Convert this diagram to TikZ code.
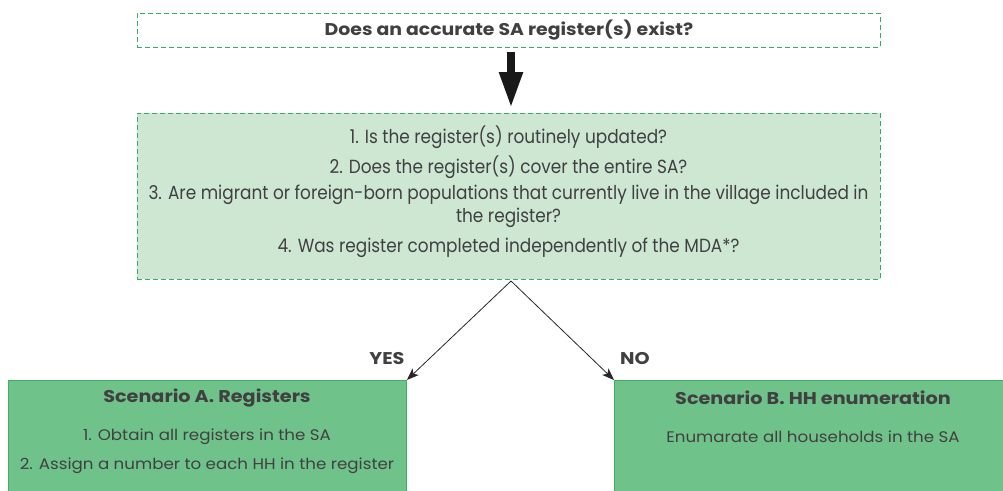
\documentclass[tikz,border=0pt]{standalone}
\usepackage{fontspec}
\setmainfont{Poppins}
\newfontfamily\condfont[FakeStretch=0.89]{Poppins}
\newfontfamily\wideA[FakeStretch=1.11]{Poppins}
\newfontfamily\wideB[FakeStretch=1.09]{Poppins}
\newfontfamily\wideC[FakeStretch=1.13]{Poppins}
\usetikzlibrary{arrows.meta,positioning}
\definecolor{txt}{HTML}{404040}
\definecolor{dashgreen}{HTML}{2EB062}
\definecolor{palegreen}{HTML}{CEE7D3}
\definecolor{boxgreen}{HTML}{70C28B}
\definecolor{boxedge}{HTML}{3DB064}
\tikzset{
  qbox/.style={draw=dashgreen, dash pattern=on 5pt off 3pt, line width=0.9pt, inner sep=0pt, text=txt},
  scen/.style={draw=boxedge, fill=boxgreen, line width=0.9pt, inner sep=0pt, text=txt, anchor=north west},
  thin/.style={draw=black!85, line width=0.8pt, -{Stealth[length=12pt,width=9pt,inset=3pt]}},
  lab/.style={text=txt, font=\wideC\fontsize{17}{20}\selectfont\bfseries}
}
\begin{document}
\begin{tikzpicture}[x=1pt,y=-1pt]
\useasboundingbox (0,0) rectangle (1003,490);
\node[qbox, minimum width=743pt, minimum height=34pt, anchor=north west] (top) at (137,13)
  {\wideA\fontsize{17}{20}\selectfont\bfseries Does an accurate SA register(s) exist?};
\node[qbox, fill=palegreen, minimum width=743pt, minimum height=166pt, anchor=north west] (mid) at (137,113) {};
\begin{scope}[every node/.style={text=txt, font=\condfont\fontsize{19}{22}\selectfont}]
\node (q1) at (508.5,137) {1. Is the register(s) routinely updated?};
\node (q2) at (508.5,167) {2. Does the register(s) cover the entire SA?};
\node (q3) at (508.5,195) {3. Are migrant or foreign-born populations that currently live in the village included in};
\node (q3b) at (508.5,218) {the register?};
\node (q4) at (508.5,248) {4. Was register completed independently of the MDA*?};
\end{scope}
\draw[black!90, line width=8pt, -{Triangle[width=22pt,length=36pt]}, shorten <=4pt, shorten >=5pt] (top.south -| 511,0) -- (mid.north -| 511,0);
\node[scen, minimum width=398pt, minimum height=115pt] (A) at (8,380) {};
\node[scen, minimum width=395pt, minimum height=115pt] (B) at (614,380) {};
\coordinate (split) at (511,281);
\draw[thin] (split) -- (A.north east);
\draw[thin] (split) -- (B.north west);
\node[lab] (yes) at (387,359) {YES};
\node[lab] (no) at (635,359) {NO};
\begin{scope}[every node/.style={text=txt, font=\wideB\fontsize{15.3}{18}\selectfont}]
\node[font=\wideC\fontsize{17}{20}\selectfont\bfseries] (at) at (207,398) {Scenario A. Registers};
\node (a1) at (207,437) {1. Obtain all registers in the SA};
\node (a2) at (207,466) {2. Assign a number to each HH in the register};
\node[font=\wideC\fontsize{17}{20}\selectfont\bfseries] (bt) at (813,398) {Scenario B. HH enumeration};
\node (b1) at (813,437) {Enumarate all households in the SA};
\end{scope}
\end{tikzpicture}
\end{document}
